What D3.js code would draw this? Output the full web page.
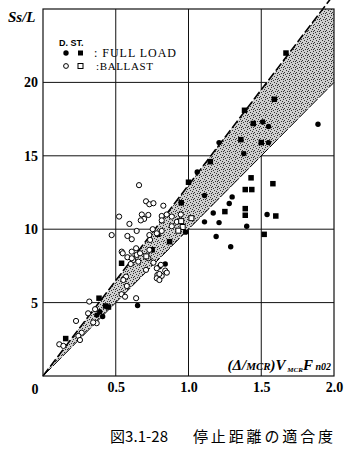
<!DOCTYPE html>
<html>
<head>
<meta charset="utf-8">
<script src="https://cdn.jsdelivr.net/npm/d3@7"></script>
<style>
  body { margin: 0; background: #fff; }
  svg { display: block; }
  .tick text { font-family: "Liberation Serif", serif; font-weight: bold; font-size: 14px; fill: #000; }
</style>
</head>
<body>
<div id="chart"></div>
<script>
// x ticks / y ticks
const xTicks = [0.5, 1.0, 1.5, 2.0];
const yTicks = [5, 10, 15, 20];

// band: lower and upper slope of Ss/L vs x
const bandLower = 10;
const bandUpper = 13;

// D. full load (filled circle)
const dieselFull = [
  [1.89, 17.15], [1.51, 17.3], [1.55, 17.0], [1.21, 15.9], [1.55, 15.9], [1.38, 15.15],
  [1.06, 13.9], [1.11, 12.3], [1.30, 12.2], [1.28, 11.75], [1.17, 11.1], [1.54, 11.0],
  [1.11, 10.5], [1.21, 10.45], [1.40, 10.2], [1.19, 9.5], [1.29, 8.8], [0.98, 9.8],
  [0.84, 7.63], [0.80, 7.45], [0.65, 4.8], [0.39, 4.38], [0.41, 4.05], [0.37, 4.15]
];

// ST. full load (filled square)
const steamFull = [
  [1.67, 22.0], [1.59, 18.85], [1.385, 18.1], [1.445, 17.2], [1.36, 16.1], [1.50, 15.9],
  [1.00, 13.2], [1.43, 13.5], [1.58, 13.1], [1.39, 12.7], [1.435, 12.7], [1.25, 11.2],
  [1.39, 11.4], [1.39, 10.95], [1.60, 10.9], [1.52, 9.65], [0.79, 9.66], [0.87, 9.15],
  [0.54, 7.68], [0.385, 5.3], [0.43, 4.77], [0.45, 4.7], [0.156, 2.55],
  [0.95, 11.8], [1.15, 14.6], [0.75, 8.6]
];

// D. ballast (open circle)
const dieselBallast = [
  [0.66, 13.0], [0.708, 11.9], [0.731, 11.7], [0.759, 11.77], [0.827, 11.6],
  [0.523, 10.86], [0.679, 11.0], [0.724, 10.97], [0.695, 10.7], [0.672, 10.6],
  [0.816, 10.9], [0.85, 11.0], [0.816, 10.6], [0.885, 10.86], [0.947, 11.0],
  [0.594, 10.36], [0.92, 10.5], [0.885, 10.2], [0.644, 9.88], [0.472, 9.6],
  [0.58, 9.54], [0.61, 9.32], [0.754, 10.0], [0.816, 9.88], [0.782, 9.72],
  [0.731, 9.6], [0.736, 9.27], [0.541, 8.47], [0.61, 8.47], [0.64, 8.7],
  [0.731, 8.59], [0.548, 8.36], [0.644, 8.25], [0.58, 8.09], [0.62, 7.9],
  [0.603, 7.63], [0.61, 8.02], [0.667, 8.36], [0.655, 7.79], [0.724, 8.02],
  [0.759, 7.72], [0.708, 7.23], [0.782, 7.34], [0.786, 6.88], [0.81, 7.57],
  [0.84, 7.18], [0.851, 7.04], [0.816, 6.82], [0.782, 6.66], [0.8, 6.95],
  [0.571, 6.77], [0.552, 6.54], [0.8, 6.54], [0.576, 6.13],
  [0.54, 5.57], [0.564, 5.4], [0.64, 5.3], [0.318, 5.07], [0.358, 4.55],
  [0.31, 4.27], [0.369, 3.6], [0.345, 3.65], [0.227, 3.75], [0.266, 2.95],
  [0.243, 2.73], [0.254, 2.45], [0.112, 2.16], [0.14, 2.05]
];

// ST. ballast (open square)
const steamBallast = [
  [0.95, 10.55], [0.96, 10.15], [1.02, 10.75], [0.93, 9.9], [0.71, 8.15]
];

const W = 350, H = 450;
const margin = { top: 9, right: 16, bottom: 74, left: 43 },
  width = W - margin.left - margin.right,
  height = H - margin.top - margin.bottom;

const svg = d3.select("#chart").append("svg")
  .attr("width", W).attr("height", H);

const defs = svg.append("defs");
const pat = defs.append("pattern").attr("id", "stipple")
  .attr("width", 6).attr("height", 6).attr("patternUnits", "userSpaceOnUse");
pat.append("rect").attr("width", 6).attr("height", 6).attr("fill", "#cfcfcf");
[[0, 0], [3, 1], [5, 2], [1, 3], [4, 4], [2, 5], [0, 4]].forEach(function(p) {
  pat.append("rect").attr("x", p[0]).attr("y", p[1]).attr("width", 1).attr("height", 1).attr("fill", "#333");
});
defs.append("clipPath").attr("id", "plotclip")
  .append("rect").attr("width", width).attr("height", height);

const g = svg.append("g").attr("transform", translate(margin.left, margin.top));

let x = d3.scaleLinear().domain([0, 2]).range([0, width]);
let y = d3.scaleLinear().domain([0, 25]).range([height, 0]);

// grid
g.append("g").selectAll("line").data(xTicks.slice(0, 3)).enter().append("line")
  .attr("x1", d => x(d)).attr("x2", d => x(d)).attr("y1", 0).attr("y2", height)
  .attr("stroke", "#111").attr("stroke-width", 1);
g.append("g").selectAll("line").data(yTicks).enter().append("line")
  .attr("y1", d => y(d)).attr("y2", d => y(d)).attr("x1", 0).attr("x2", width)
  .attr("stroke", "#111").attr("stroke-width", 1);

// band
const bandPts = [[0, 0], [25 / bandUpper, 25], [2, 25], [2, 2 * bandLower]];
g.append("path")
  .attr("d", d3.line().x(d => x(d[0])).y(d => y(d[1]))(bandPts) + "Z")
  .attr("fill", "url(#stipple)")
  .attr("clip-path", "url(#plotclip)");
g.append("line")
  .attr("x1", x(0)).attr("y1", y(0)).attr("x2", x(1.98)).attr("y2", y(1.98 * bandUpper))
  .attr("stroke", "#000").attr("stroke-width", 1.6).attr("stroke-dasharray", "9,3");
g.append("line")
  .attr("x1", x(0)).attr("y1", y(0)).attr("x2", x(2)).attr("y2", y(2 * bandLower))
  .attr("stroke", "#000").attr("stroke-width", 1).attr("stroke-dasharray", "12,2");

// frame
g.append("rect").attr("width", width).attr("height", height)
  .attr("fill", "none").attr("stroke", "#111").attr("stroke-width", 1.2);

// axes labels
g.append("g").attr("transform", translate(0, height))
  .call(d3.axisBottom(x).tickValues(xTicks).tickSize(0).tickPadding(6).tickFormat(d3.format(".1f")))
  .call(s => s.select(".domain").remove());
g.append("g")
  .call(d3.axisLeft(y).tickValues(yTicks).tickSize(0).tickPadding(5))
  .call(s => s.select(".domain").remove());
g.append("text").attr("x", -8).attr("y", height + 18)
  .attr("text-anchor", "middle")
  .style("font-family", "Liberation Serif").style("font-weight", "bold").style("font-size", "14px")
  .text("0");

g.append("text").attr("x", -35).attr("y", 13)
  .style("font-family", "Liberation Serif").style("font-weight", "bold").style("font-style", "italic")
  .style("font-size", "15px").text("Ss/L");

// x axis title inside plot
const xt = g.append("text").attr("x", width - 3).attr("y", height - 6)
  .attr("text-anchor", "end")
  .style("font-family", "Liberation Serif").style("font-weight", "bold").style("font-style", "italic")
  .style("font-size", "15px");
xt.append("tspan").text("(Δ/");
xt.append("tspan").style("font-size", "11px").text("MCR");
xt.append("tspan").text(")V");
xt.append("tspan").style("font-size", "7px").attr("dy", 2).text(" MCR");
xt.append("tspan").attr("dy", -2).text("F");
xt.append("tspan").style("font-size", "10px").text(" n02");

// points
const pts = g.append("g");
const sq = 5.5;
pts.selectAll(".dfull").data(dieselFull).enter().append("circle")
  .attr("cx", d => x(d[0])).attr("cy", d => y(d[1])).attr("r", 2.7).attr("fill", "#000");
pts.selectAll(".sfull").data(steamFull).enter().append("rect")
  .attr("x", d => x(d[0]) - sq / 2).attr("y", d => y(d[1]) - sq / 2)
  .attr("width", sq).attr("height", sq).attr("fill", "#000");
pts.selectAll(".dbal").data(dieselBallast).enter().append("circle")
  .attr("cx", d => x(d[0])).attr("cy", d => y(d[1])).attr("r", 2.6)
  .attr("fill", "#fff").attr("stroke", "#000").attr("stroke-width", 1);
pts.selectAll(".sbal").data(steamBallast).enter().append("rect")
  .attr("x", d => x(d[0]) - 2.5).attr("y", d => y(d[1]) - 2.5)
  .attr("width", 5).attr("height", 5)
  .attr("fill", "#fff").attr("stroke", "#000").attr("stroke-width", 1);

// legend
const lg = svg.append("g");
lg.append("text").attr("x", 59).attr("y", 46)
  .style("font-family", "Liberation Sans").style("font-weight", "bold").style("font-size", "9px")
  .text("D.  ST.");
lg.append("circle").attr("cx", 66).attr("cy", 53).attr("r", 2.7).attr("fill", "#000");
lg.append("rect").attr("x", 78).attr("y", 50.5).attr("width", 5).attr("height", 5).attr("fill", "#000");
lg.append("circle").attr("cx", 66).attr("cy", 66).attr("r", 2.4)
  .attr("fill", "#fff").attr("stroke", "#000");
lg.append("rect").attr("x", 78).attr("y", 63.5).attr("width", 5).attr("height", 5)
  .attr("fill", "#fff").attr("stroke", "#000");
lg.append("text").attr("x", 94).attr("y", 57)
  .style("font-family", "Liberation Serif").style("font-size", "12px")
  .attr("textLength", 82).text(": FULL LOAD");
lg.append("text").attr("x", 96).attr("y", 70)
  .style("font-family", "Liberation Serif").style("font-size", "11px")
  .attr("textLength", 57).text(":BALLAST");

// caption
svg.append("text").attr("x", 110).attr("y", 442)
  .style("font-family", "Noto Sans CJK JP").style("font-size", "15px")
  .attr("textLength", 58).text("図3.1-28");
svg.append("text").attr("x", 193).attr("y", 442)
  .style("font-family", "Noto Sans CJK JP").style("font-size", "15px")
  .attr("textLength", 140).text("停止距離の適合度");

function translate(x, y) {
  return 'translate(' + x + ',' + y + ')';
}
</script>
</body>
</html>
